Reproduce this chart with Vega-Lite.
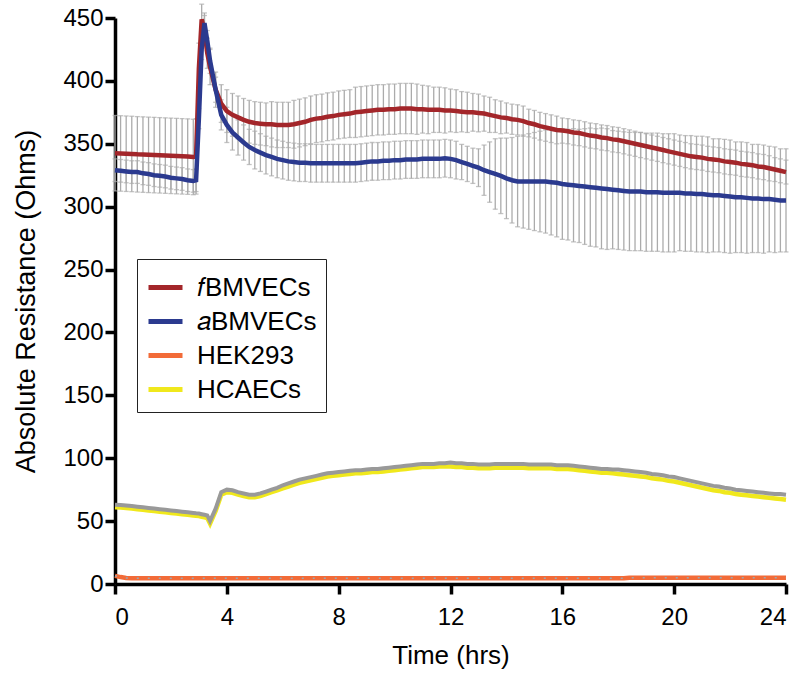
{
"$schema":"https://vega.github.io/schema/vega-lite/v6.json",
"width":671,"height":566,
"autosize":{"type":"none"},
"padding":{"left":115,"top":18,"right":13,"bottom":91},
"background":"white",
"config":{"view":{"stroke":null},"font":"Liberation Sans",
"axis":{"domainColor":"black","domainWidth":3.5,"tickColor":"black","tickWidth":3.5,"tickSize":10,"labelFontSize":24,"labelColor":"black","titleFontWeight":"normal","titleColor":"black","grid":false,"labelFont":"Liberation Sans","titleFont":"Liberation Sans"}},
"data":{"values":[
{"t":0,"f":342.5,"fe":30,"a":329,"ae":9,"h":6.5,"c":61,"cg":63},
{"t":0.2,"f":342.3,"fe":30,"a":328.5,"ae":9,"h":5.5,"c":60.8,"cg":62.8},
{"t":0.4,"f":342.1,"fe":30,"a":328,"ae":9,"h":4.8,"c":60.5,"cg":62.5},
{"t":0.6,"f":341.9,"fe":30,"a":327.5,"ae":9,"h":4.5,"c":60,"cg":62},
{"t":0.8,"f":341.6,"fe":30,"a":327.5,"ae":9,"h":4.5,"c":59.5,"cg":61.5},
{"t":1.0,"f":341.4,"fe":30,"a":326.5,"ae":9,"h":4.5,"c":59,"cg":61},
{"t":1.2,"f":341.2,"fe":30,"a":326,"ae":9,"h":4.5,"c":58.5,"cg":60.5},
{"t":1.4,"f":341,"fe":30,"a":325,"ae":9,"h":4.5,"c":58,"cg":60},
{"t":1.6,"f":340.8,"fe":30,"a":324.5,"ae":9,"h":4.5,"c":57.5,"cg":59.5},
{"t":1.8,"f":340.6,"fe":30,"a":324,"ae":9,"h":4.5,"c":57,"cg":59},
{"t":2.0,"f":340.4,"fe":30,"a":323,"ae":9,"h":4.5,"c":56.5,"cg":58.5},
{"t":2.2,"f":340.2,"fe":30,"a":322.5,"ae":9,"h":4.5,"c":56,"cg":58},
{"t":2.4,"f":340,"fe":30,"a":322,"ae":9,"h":4.5,"c":55.5,"cg":57.5},
{"t":2.6,"f":339.8,"fe":30,"a":321,"ae":9,"h":4.5,"c":55,"cg":57},
{"t":2.8,"f":339.5,"fe":30,"a":320.5,"ae":9,"h":4.5,"c":54.5,"cg":56.5},
{"t":2.9,"f":340,"fe":30,"a":321,"ae":9,"h":4.5,"c":54.2,"cg":56.2},
{"t":3.0,"f":410,"fe":20,"a":370,"ae":8,"h":4.5,"c":54,"cg":56},
{"t":3.1,"f":449,"fe":12,"a":425,"ae":8,"h":4.5,"c":53.5,"cg":55.5},
{"t":3.2,"f":440,"fe":12,"a":446,"ae":8,"h":4.5,"c":53,"cg":55},
{"t":3.3,"f":422,"fe":12,"a":432,"ae":8,"h":4.5,"c":52.5,"cg":54.5},
{"t":3.4,"f":411,"fe":14,"a":416,"ae":10,"h":4.5,"c":48,"cg":50},
{"t":3.6,"f":393,"fe":14,"a":393,"ae":10,"h":4.5,"c":58,"cg":60},
{"t":3.8,"f":382,"fe":15,"a":373,"ae":12,"h":4.5,"c":71,"cg":73},
{"t":4.0,"f":376,"fe":17,"a":365,"ae":14,"h":4.5,"c":73,"cg":75},
{"t":4.2,"f":373,"fe":17,"a":359,"ae":14,"h":4.5,"c":72.5,"cg":74.5},
{"t":4.4,"f":371,"fe":17,"a":355,"ae":14,"h":4.5,"c":71,"cg":73},
{"t":4.6,"f":369,"fe":17,"a":351,"ae":14,"h":4.5,"c":70,"cg":72},
{"t":4.8,"f":367.5,"fe":17,"a":347.5,"ae":14,"h":4.5,"c":69,"cg":71},
{"t":5.0,"f":366.5,"fe":17,"a":345,"ae":15,"h":4.5,"c":69,"cg":71},
{"t":5.2,"f":366,"fe":17,"a":343,"ae":15,"h":4.5,"c":70,"cg":72},
{"t":5.4,"f":365.5,"fe":17,"a":341,"ae":15,"h":4.5,"c":71.5,"cg":73.5},
{"t":5.6,"f":365.5,"fe":18,"a":339.5,"ae":15,"h":4.5,"c":73,"cg":75},
{"t":5.8,"f":365,"fe":18,"a":338,"ae":15,"h":4.5,"c":74.5,"cg":76.5},
{"t":6.0,"f":365,"fe":18,"a":337,"ae":15,"h":4.5,"c":76,"cg":78.5},
{"t":6.2,"f":365,"fe":18,"a":336,"ae":15,"h":4.5,"c":77.5,"cg":80},
{"t":6.4,"f":365.5,"fe":19,"a":335.5,"ae":15,"h":4.5,"c":79,"cg":81.5},
{"t":6.6,"f":366.5,"fe":19,"a":335,"ae":15,"h":4.5,"c":80.5,"cg":83},
{"t":6.8,"f":367.5,"fe":19,"a":335,"ae":15,"h":4.5,"c":81.5,"cg":84},
{"t":7.0,"f":369,"fe":19,"a":334.5,"ae":15,"h":4.5,"c":82.5,"cg":85},
{"t":7.2,"f":370,"fe":19,"a":334.5,"ae":15,"h":4.5,"c":83.5,"cg":86},
{"t":7.4,"f":370.5,"fe":19,"a":334.5,"ae":15,"h":4.5,"c":84.5,"cg":87},
{"t":7.6,"f":371.5,"fe":19,"a":334.5,"ae":15,"h":4.5,"c":85.5,"cg":88},
{"t":7.8,"f":372,"fe":19,"a":334.5,"ae":15,"h":4.5,"c":86,"cg":88.5},
{"t":8.0,"f":373,"fe":19,"a":334.5,"ae":15,"h":4.5,"c":86.5,"cg":89},
{"t":8.2,"f":373.5,"fe":19,"a":334.5,"ae":15,"h":4.5,"c":87,"cg":89.5},
{"t":8.4,"f":374,"fe":19,"a":334.5,"ae":15,"h":4.5,"c":87.5,"cg":90},
{"t":8.6,"f":375,"fe":20,"a":334.5,"ae":15,"h":4.5,"c":88,"cg":90.5},
{"t":8.8,"f":375.5,"fe":20,"a":335,"ae":15,"h":4.5,"c":88,"cg":90.5},
{"t":9.0,"f":376,"fe":20,"a":335.5,"ae":15,"h":4.5,"c":88.5,"cg":91},
{"t":9.2,"f":376.5,"fe":20,"a":336,"ae":15,"h":4.5,"c":89,"cg":91.5},
{"t":9.4,"f":377,"fe":20,"a":336,"ae":15,"h":4.5,"c":89,"cg":91.5},
{"t":9.6,"f":377,"fe":20,"a":336.5,"ae":15,"h":4.5,"c":89.5,"cg":92},
{"t":9.8,"f":377.5,"fe":20,"a":336.5,"ae":15,"h":4.5,"c":90,"cg":92.5},
{"t":10.0,"f":377.5,"fe":20,"a":337,"ae":15,"h":4.5,"c":90.5,"cg":93},
{"t":10.2,"f":378,"fe":20,"a":337,"ae":15,"h":4.5,"c":91,"cg":93.5},
{"t":10.4,"f":378,"fe":20,"a":337.5,"ae":15,"h":4.5,"c":91.5,"cg":94},
{"t":10.6,"f":378,"fe":20,"a":337.5,"ae":15,"h":4.5,"c":92,"cg":94.5},
{"t":10.8,"f":377.5,"fe":20,"a":337.5,"ae":15,"h":4.5,"c":92.5,"cg":95},
{"t":11.0,"f":377.5,"fe":19,"a":338,"ae":15,"h":4.5,"c":93,"cg":95.5},
{"t":11.2,"f":377,"fe":19,"a":338,"ae":15,"h":4.5,"c":93,"cg":95.5},
{"t":11.4,"f":377,"fe":18,"a":338,"ae":15,"h":4.5,"c":93,"cg":95.5},
{"t":11.6,"f":377,"fe":18,"a":338,"ae":15,"h":4.5,"c":93.5,"cg":96},
{"t":11.8,"f":376.5,"fe":18,"a":338.5,"ae":15,"h":4.5,"c":93.5,"cg":96},
{"t":12.0,"f":376.5,"fe":17,"a":338,"ae":15,"h":4.5,"c":93.5,"cg":96.5},
{"t":12.2,"f":376,"fe":17,"a":337,"ae":15,"h":4.5,"c":93,"cg":96},
{"t":12.4,"f":375.5,"fe":16,"a":335.5,"ae":14,"h":4.5,"c":93,"cg":96},
{"t":12.6,"f":375,"fe":16,"a":334,"ae":14,"h":4.5,"c":92.5,"cg":95.5},
{"t":12.8,"f":375,"fe":15,"a":332.5,"ae":14,"h":4.5,"c":92.5,"cg":95.5},
{"t":13.0,"f":374.5,"fe":15,"a":331,"ae":15,"h":4.5,"c":92,"cg":95},
{"t":13.2,"f":374,"fe":14,"a":329,"ae":20,"h":4.5,"c":92,"cg":95},
{"t":13.4,"f":373,"fe":14,"a":327.5,"ae":24,"h":4.5,"c":92,"cg":95},
{"t":13.6,"f":372,"fe":13,"a":326,"ae":28,"h":4.5,"c":92.5,"cg":95.5},
{"t":13.8,"f":371,"fe":13,"a":324.5,"ae":30,"h":4.5,"c":92.5,"cg":95.5},
{"t":14.0,"f":370.5,"fe":12,"a":322.5,"ae":32,"h":4.5,"c":92.5,"cg":95.5},
{"t":14.2,"f":369.5,"fe":12,"a":321,"ae":34,"h":4.5,"c":92.5,"cg":95.5},
{"t":14.4,"f":369,"fe":12,"a":320,"ae":36,"h":4.5,"c":92.5,"cg":95.5},
{"t":14.6,"f":368,"fe":12,"a":320,"ae":37,"h":4.5,"c":92.5,"cg":95.5},
{"t":14.8,"f":366.5,"fe":11,"a":320,"ae":38,"h":4.5,"c":92,"cg":95},
{"t":15.0,"f":365.5,"fe":11,"a":320,"ae":39,"h":4.5,"c":92,"cg":95},
{"t":15.2,"f":364,"fe":11,"a":320,"ae":40,"h":4.5,"c":92,"cg":95},
{"t":15.4,"f":363,"fe":11,"a":320,"ae":41,"h":4.5,"c":92,"cg":95},
{"t":15.6,"f":362,"fe":11,"a":319.5,"ae":42,"h":4.5,"c":92,"cg":95},
{"t":15.8,"f":361,"fe":11,"a":319,"ae":43,"h":4.5,"c":91.5,"cg":94.5},
{"t":16.0,"f":360.5,"fe":10,"a":318,"ae":44,"h":4.5,"c":91.5,"cg":94.5},
{"t":16.2,"f":360,"fe":10,"a":317.5,"ae":44,"h":4.5,"c":91.5,"cg":94.5},
{"t":16.4,"f":359,"fe":10,"a":317,"ae":45,"h":4.5,"c":91,"cg":94},
{"t":16.6,"f":358.5,"fe":10,"a":316.5,"ae":45,"h":4.5,"c":90.5,"cg":93.5},
{"t":16.8,"f":357.5,"fe":10,"a":316,"ae":46,"h":4.5,"c":90,"cg":93},
{"t":17.0,"f":356.5,"fe":10,"a":315.5,"ae":47,"h":4.5,"c":89.5,"cg":92.5},
{"t":17.2,"f":356,"fe":10,"a":315,"ae":47,"h":4.5,"c":89,"cg":92},
{"t":17.4,"f":355,"fe":10,"a":314.5,"ae":48,"h":4.5,"c":88.5,"cg":91.5},
{"t":17.6,"f":354.5,"fe":10,"a":314,"ae":48,"h":4.5,"c":88.5,"cg":91.5},
{"t":17.8,"f":353.5,"fe":10,"a":313.5,"ae":47,"h":4.5,"c":88,"cg":91},
{"t":18.0,"f":353,"fe":10,"a":313,"ae":47,"h":4.5,"c":87.5,"cg":91},
{"t":18.2,"f":352,"fe":10,"a":312.5,"ae":47,"h":4.5,"c":87,"cg":90.5},
{"t":18.4,"f":351,"fe":10,"a":312,"ae":47,"h":5,"c":86.5,"cg":90},
{"t":18.6,"f":350,"fe":10,"a":312,"ae":47,"h":5,"c":86,"cg":89.5},
{"t":18.8,"f":349,"fe":10,"a":312,"ae":47,"h":5,"c":85.5,"cg":89},
{"t":19.0,"f":348,"fe":10,"a":311.5,"ae":47,"h":5,"c":85,"cg":88.5},
{"t":19.2,"f":347,"fe":10,"a":311.5,"ae":47,"h":5,"c":84,"cg":87.5},
{"t":19.4,"f":346,"fe":10,"a":311.5,"ae":47,"h":5,"c":83.5,"cg":87},
{"t":19.6,"f":345,"fe":10,"a":311,"ae":47,"h":5,"c":83,"cg":86.5},
{"t":19.8,"f":344,"fe":10,"a":311,"ae":47,"h":5,"c":82,"cg":85.5},
{"t":20.0,"f":343,"fe":10,"a":311,"ae":47,"h":5,"c":81.5,"cg":85},
{"t":20.2,"f":342,"fe":10,"a":311,"ae":46,"h":5,"c":80.5,"cg":84},
{"t":20.4,"f":341,"fe":10,"a":310.5,"ae":46,"h":5,"c":79.5,"cg":83},
{"t":20.6,"f":340,"fe":10,"a":310.5,"ae":46,"h":5,"c":78.5,"cg":82},
{"t":20.8,"f":339.5,"fe":10,"a":310,"ae":46,"h":5,"c":77.5,"cg":81},
{"t":21.0,"f":339,"fe":10,"a":310,"ae":46,"h":5,"c":76.5,"cg":80},
{"t":21.2,"f":338,"fe":10,"a":309.5,"ae":46,"h":5,"c":75.5,"cg":79},
{"t":21.4,"f":337.5,"fe":10,"a":309,"ae":45,"h":5,"c":74.5,"cg":78},
{"t":21.6,"f":337,"fe":10,"a":309,"ae":45,"h":5,"c":74,"cg":77.5},
{"t":21.8,"f":336,"fe":10,"a":308.5,"ae":45,"h":5,"c":73,"cg":76.5},
{"t":22.0,"f":335.5,"fe":10,"a":308,"ae":45,"h":5,"c":72.5,"cg":76},
{"t":22.2,"f":335,"fe":10,"a":307.5,"ae":44,"h":5,"c":71.5,"cg":75},
{"t":22.4,"f":334,"fe":10,"a":307.5,"ae":44,"h":5,"c":71,"cg":74.5},
{"t":22.6,"f":333.5,"fe":10,"a":307,"ae":44,"h":5,"c":70.5,"cg":74},
{"t":22.8,"f":333,"fe":10,"a":306.5,"ae":43,"h":5,"c":70,"cg":73.5},
{"t":23.0,"f":332,"fe":10,"a":306.5,"ae":43,"h":5,"c":69.5,"cg":73},
{"t":23.2,"f":331.5,"fe":10,"a":306,"ae":43,"h":5,"c":69,"cg":72.5},
{"t":23.4,"f":330.5,"fe":10,"a":306,"ae":42,"h":5,"c":68.5,"cg":72},
{"t":23.6,"f":329.5,"fe":9.5,"a":305.5,"ae":42,"h":5,"c":68,"cg":71.5},
{"t":23.8,"f":328.5,"fe":9.5,"a":305,"ae":41,"h":5,"c":67.5,"cg":71.5},
{"t":24.0,"f":327.5,"fe":9.5,"a":305,"ae":41,"h":5,"c":67,"cg":71}
]},
"layer":[
{"mark":{"type":"errorbar","ticks":true,"color":"#ababab","thickness":1.3,"size":5},
 "encoding":{"x":{"field":"t","type":"quantitative","scale":{"domain":[0,24]},"title":"Time (hrs)","axis":{"values":[0,4,8,12,16,20,24],"labelPadding":11,"titlePadding":13,"titleFontSize":26}},
 "y":{"field":"f","type":"quantitative","scale":{"domain":[0,450]},"title":"Absolute Resistance (Ohms)","axis":{"values":[0,50,100,150,200,250,300,350,400,450],"labelPadding":2,"titlePadding":22,"titleFontSize":27}},
 "yError":{"field":"fe"}}},
{"mark":{"type":"errorbar","ticks":true,"color":"#ababab","thickness":1.3,"size":5},
 "encoding":{"x":{"field":"t","type":"quantitative","title":"Time (hrs)"},"y":{"field":"a","type":"quantitative","title":"Absolute Resistance (Ohms)"},"yError":{"field":"ae"}}},
{"transform":[{"fold":["f","a","h","c"],"as":["s","v"]}],
 "mark":{"type":"line","strokeWidth":4.5},
 "encoding":{"x":{"field":"t","type":"quantitative","title":"Time (hrs)"},"y":{"field":"v","type":"quantitative","title":"Absolute Resistance (Ohms)"},
 "color":{"field":"s","type":"nominal","scale":{"domain":["f","a","h","c"],"range":["#a3262a","#2b3a8f","#f26b38","#f0e81c"]},
 "legend":{"orient":"none","legendX":22,"legendY":241,"title":null,"strokeColor":"#222222","fillColor":"white","padding":9,"symbolType":"stroke","symbolSize":1156,"symbolStrokeWidth":5,"labelFontSize":26,"labelColor":"black","labelFont":"Liberation Sans","labelOffset":12,"rowPadding":1,
 "labelExpr":"datum.label == 'f' ? '𝑓BMVECs' : datum.label == 'a' ? '𝑎BMVECs' : datum.label == 'h' ? 'HEK293' : 'HCAECs'"}}}},
{"mark":{"type":"line","strokeWidth":4,"color":"#999999"},
 "encoding":{"x":{"field":"t","type":"quantitative","title":"Time (hrs)"},"y":{"field":"cg","type":"quantitative","title":"Absolute Resistance (Ohms)"}}},
{"mark":{"type":"line","strokeWidth":1.5,"color":"#9aa7b0","strokeDash":[2,9]},
 "encoding":{"x":{"field":"t","type":"quantitative","title":"Time (hrs)"},"y":{"field":"h","type":"quantitative","title":"Absolute Resistance (Ohms)"}}}
]
}
